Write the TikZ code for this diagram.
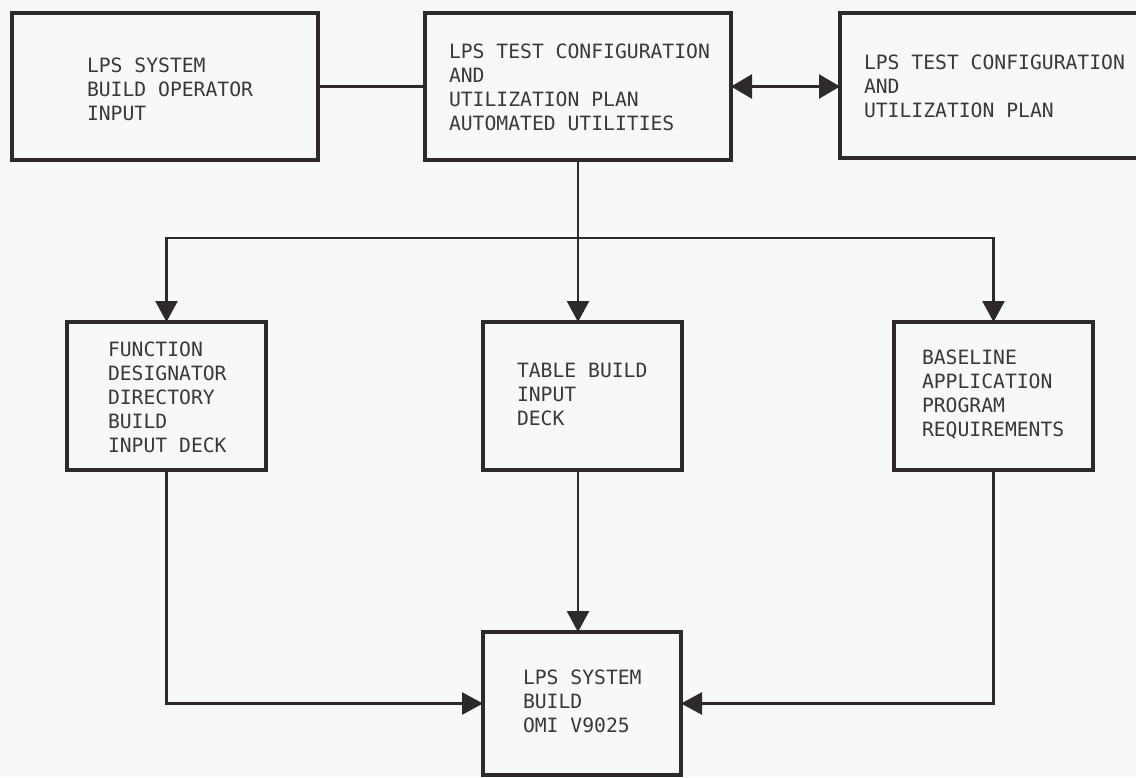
\documentclass[tikz,border=0pt]{standalone}
\usepackage{fontspec}
\newfontfamily\monofont{DejaVu Sans Mono}
\usetikzlibrary{arrows.meta}
\definecolor{ink}{HTML}{2E2A2A}
\definecolor{txtc}{HTML}{3A3838}
\definecolor{paper}{HTML}{F8F8F8}
\tikzset{
  box/.style={draw=ink, line width=4pt, inner sep=0pt, outer sep=0pt, fill=paper},
  lbl/.style={anchor=north west, inner sep=0pt, outer sep=0pt, align=left, text=txtc,
              font=\monofont\fontsize{19.7}{24}\selectfont},
  conn/.style={draw=ink, line width=2.6pt},
  arr/.style={conn, -{Triangle[length=21pt,width=22pt]}},
  darr/.style={conn, {Triangle[length=21pt,width=24pt]}-{Triangle[length=21pt,width=24pt]}},
}
\begin{document}
\begin{tikzpicture}[x=1pt,y=-1pt]
\useasboundingbox (0,0) rectangle (1136,777);
\fill[paper] (0,0) rectangle (1136,777);
\begin{scope}
\clip (0,0) rectangle (1136,777);
% boxes
\node[box, minimum width=306pt, minimum height=147pt] (A) at (165,86.5) {};
\node[box, minimum width=306pt, minimum height=147pt] (B) at (578,86.5) {};
\node[box, minimum width=310pt, minimum height=145pt] (C) at (995,85.5) {};
\node[box, minimum width=199pt, minimum height=148pt] (D) at (166.5,396) {};
\node[box, minimum width=199pt, minimum height=148pt] (E) at (582.5,396) {};
\node[box, minimum width=199pt, minimum height=148pt] (F) at (993.5,396) {};
\node[box, minimum width=198pt, minimum height=143pt] (G) at (582,703.5) {};
% labels
\node[lbl] (At) at (87,58) {LPS SYSTEM\\BUILD OPERATOR\\INPUT};
\node[lbl] (Bt) at (449,44) {LPS TEST CONFIGURATION\\AND\\UTILIZATION PLAN\\AUTOMATED UTILITIES};
\node[lbl] (Ct) at (864,55) {LPS TEST CONFIGURATION\\AND\\UTILIZATION PLAN};
\node[lbl] (Dt) at (108,342) {FUNCTION\\DESIGNATOR\\DIRECTORY\\BUILD\\INPUT DECK};
\node[lbl] (Et) at (517,363) {TABLE BUILD\\INPUT\\DECK};
\node[lbl] (Ft) at (922,350) {BASELINE\\APPLICATION\\PROGRAM\\REQUIREMENTS};
\node[lbl] (Gt) at (523,670) {LPS SYSTEM\\BUILD\\OMI V9025};
% connectors
\coordinate (J) at (578,238);
\draw[conn] (A.east) -- (B.west);
\draw[darr] (B.east) -- (B.east -| C.west);
\draw[conn] (B.south) -- (J);
\draw[arr] (J) -| (D.north);
\draw[arr] (J) -| (F.north);
\draw[arr] (J) -- (J |- E.north);
\draw[arr] (J |- E.south) -- (J |- G.north);
\draw[arr] (D.south) |- (G.west);
\draw[arr] (F.south) |- (G.east);
\end{scope}
\end{tikzpicture}
\end{document}
